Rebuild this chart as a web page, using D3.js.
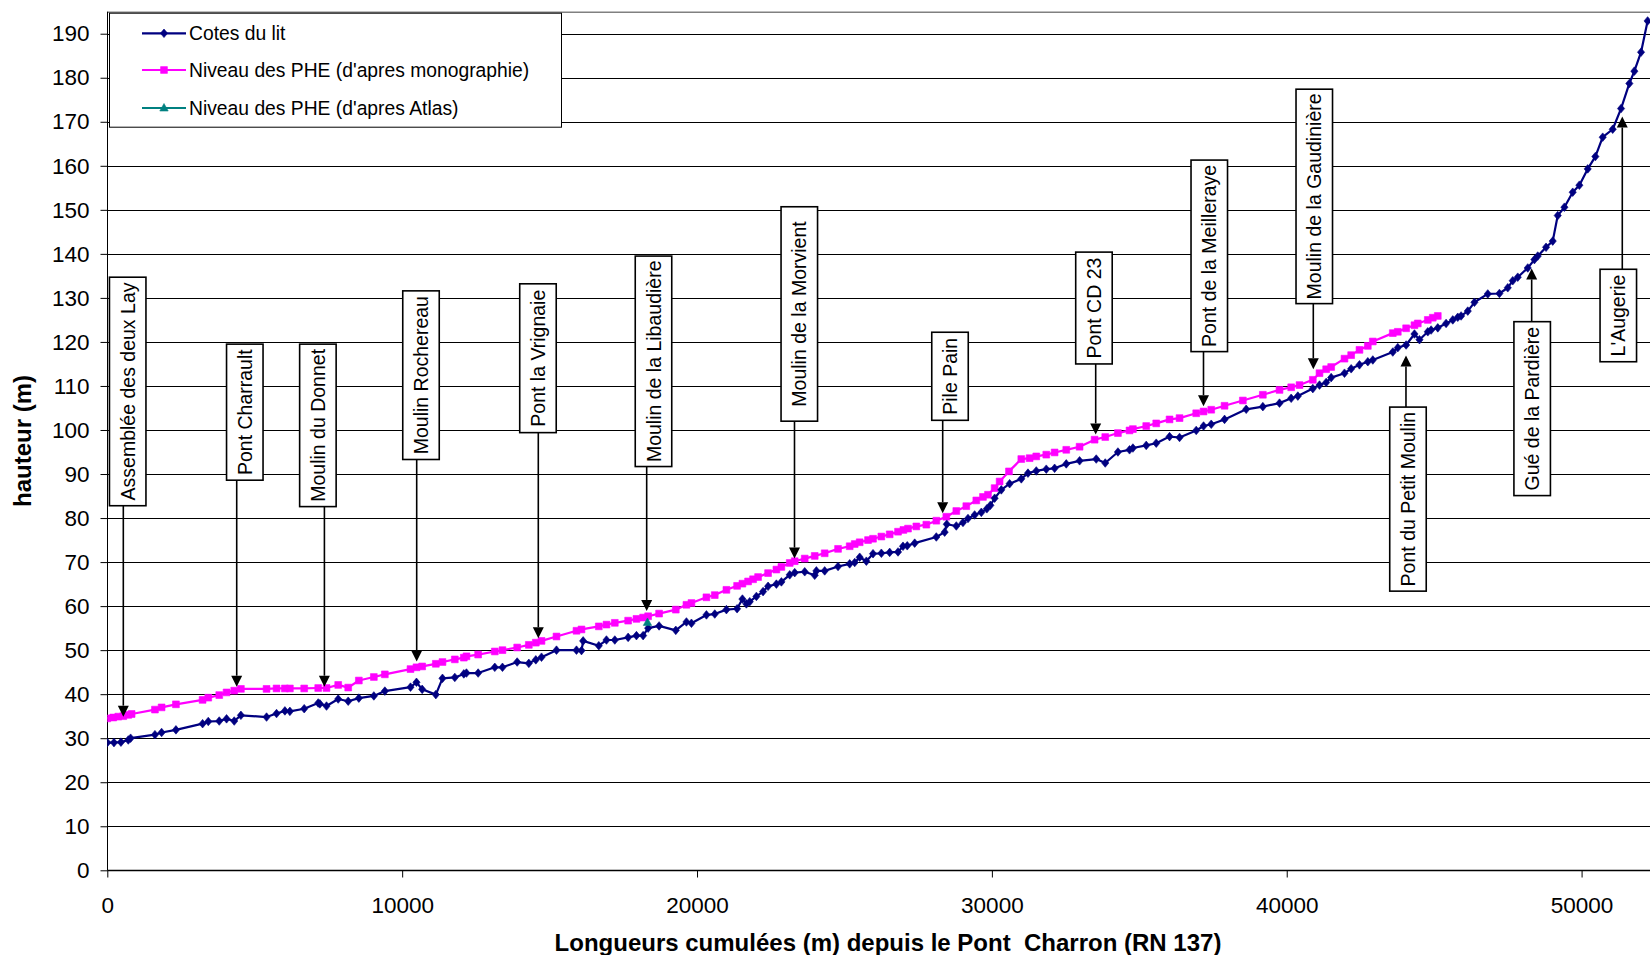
<!DOCTYPE html>
<html>
<head>
<meta charset="utf-8">
<script src="https://cdn.jsdelivr.net/npm/d3@7"></script>
<style>
  body { margin: 0; background: #ffffff; }
  svg { display: block; }
  text { font-family: "Liberation Sans", Arial, sans-serif; fill: #000; }
</style>
</head>
<body>
<svg id="chart" width="1650" height="955"></svg>
<script>
// ---- Profil en long : cotes du lit et niveaux des PHE ----

// Cotes du lit : distance cumulée (m) et cote (m)
const coteDistances = [
  0, 226, 463, 712, 791, 1616, 1842, 2328, 3232, 3424, 3797, 4045, 4305, 4531, 5401, 5740,
  6023, 6192, 6678, 7153, 7209, 7435, 7831, 8170, 8531, 9040, 9413, 10283, 10486, 10679, 11142,
  11368, 11786, 12091, 12181, 12577, 13142, 13402, 13901, 14296, 14533, 14726, 15234, 15912,
  16082, 16138, 16669, 16929, 17212, 17664, 17946, 18172, 18342, 18714, 19280, 19641, 19811,
  20319, 20602, 20997, 21359, 21540, 21675, 21788, 22014, 22240, 22410, 22692, 22862, 23144,
  23314, 23653, 23992, 24048, 24330, 24783, 25178, 25348, 25517, 25743, 25969, 26252, 26534,
  26817, 26986, 27130, 27382, 28116, 28399, 28470, 28794, 29020, 29190, 29416, 29642, 29830,
  29950, 30094, 30320, 30602, 30998, 31224, 31506, 31845, 32128, 32523, 32975, 33540, 33845,
  34275, 34669, 34783, 35235, 35574, 36026, 36365, 36930, 37179, 37439, 37891, 38625, 39190,
  39755, 40151, 40377, 40885, 41111, 41337, 41507, 41959, 42185, 42467, 42750, 42919, 43597,
  43767, 44049, 44332, 44502, 44784, 44897, 45123, 45405, 45631, 45801, 45914, 46140, 46366,
  46818, 47213, 47496, 47665, 47835, 48174, 48400, 48513, 48795, 49021, 49191, 49417, 49699,
  49925, 50208, 50467, 50716, 51055, 51338, 51620, 51790, 52016, 52239
];
const coteHeights = [
  29.0, 29.0, 29.1, 29.6, 30.0, 30.8, 31.3, 31.9, 33.3, 33.8, 33.9, 34.4, 33.9, 35.2, 34.8, 35.6,
  36.2, 36.1, 36.7, 38.0, 37.8, 37.3, 38.9, 38.4, 39.1, 39.6, 40.7, 41.6, 42.7, 41.1, 39.9,
  43.6, 43.8, 44.6, 44.8, 44.8, 46.1, 46.1, 47.3, 47.0, 47.8, 48.4, 50.0, 50.0,
  49.9, 52.1, 51.0, 52.3, 52.3, 52.9, 53.3, 53.3, 55.0, 55.5, 54.5, 56.4, 56.1,
  58.0, 58.2, 59.2, 59.4, 61.6, 60.5, 61.0, 62.2, 63.3, 64.5, 65.0, 65.5, 67.1,
  67.6, 67.8, 67.0, 68.0, 68.0, 69.0, 69.6, 69.9, 71.1, 70.2, 71.9, 72.0, 72.2,
  72.3, 73.6, 73.7, 74.3, 75.7, 76.8, 78.6, 78.2, 79.0, 79.9, 80.7, 81.3, 82.1,
  82.9, 84.5, 86.4, 87.8, 88.9, 90.2, 90.7, 91.1, 91.3, 92.3, 93.0, 93.4, 92.5,
  95.0, 95.5, 95.9, 96.5, 97.0, 98.5, 98.3, 99.9, 100.9, 101.3, 102.4, 104.7, 105.3,
  106.1, 107.2, 107.7, 109.4, 110.2, 110.8, 111.9, 112.9, 113.9, 114.8, 115.5, 115.9, 117.7,
  118.7, 119.3, 121.8, 120.5, 122.3, 122.7, 123.2, 124.2, 125.0, 125.6, 125.9, 127.0, 129.0,
  130.9, 131.0, 132.3, 133.9, 134.7, 136.8, 138.7, 139.5, 141.5, 142.9, 148.7, 150.6, 154.0,
  155.6, 159.3, 162.1, 166.5, 168.3, 173.0, 178.7, 181.5, 185.8, 192.9
];

// Niveau des PHE d'après la monographie
const pheMonoDistances = [
  0, 203, 373, 542, 712, 825, 1616, 1842, 2328, 3232, 3424, 3797, 4045, 4305, 4531, 5401,
  5740, 6023, 6192, 6678, 7153, 7435, 7831, 8170, 8531, 9040, 9413, 10283, 10486, 10679,
  11142, 11368, 11786, 12091, 12181, 12577, 13142, 13402, 13901, 14296, 14533, 14726, 15234,
  15912, 16082, 16669, 16929, 17212, 17664, 17946, 18172, 18342, 18714, 19280, 19641, 19811,
  20319, 20602, 20997, 21359, 21540, 21732, 21901, 22071, 22410, 22692, 22862, 23144, 23314,
  23653, 23992, 24330, 24783, 25178, 25348, 25517, 25800, 25969, 26252, 26534, 26817, 27000,
  27156, 27438, 27777, 28116, 28455, 28794, 29133, 29472, 29698, 29868, 30094, 30263, 30580,
  30998, 31280, 31506, 31845, 32128, 32523, 32975, 33484, 33845, 34275, 34669, 34783, 35235,
  35574, 36026, 36365, 36930, 37179, 37439, 37891, 38512, 39190, 39755, 40151, 40434, 40885,
  41111, 41337, 41507, 41959, 42185, 42467, 42750, 42919, 43597, 43767, 44049, 44332, 44445,
  44784, 44953, 45123
];
const pheMonoHeights = [
  34.5, 34.7, 34.9, 35.0, 35.3, 35.5, 36.5, 37.0, 37.7, 38.7, 39.2, 39.8, 40.4, 40.8, 41.2, 41.2,
  41.3, 41.3, 41.3, 41.3, 41.4, 41.4, 42.1, 41.5, 43.1, 43.9, 44.5, 45.7, 46.1, 46.3,
  46.9, 47.3, 47.9, 48.3, 48.6, 49.0, 49.7, 50.0, 50.6, 51.2, 51.7, 52.1, 53.1,
  54.4, 54.7, 55.4, 55.8, 56.2, 56.7, 57.1, 57.4, 57.7, 58.3, 59.2, 60.3, 60.7,
  62.0, 62.5, 63.7, 64.6, 65.1, 65.6, 66.1, 66.6, 67.5, 68.3, 68.9, 69.8, 70.2,
  70.8, 71.4, 72.0, 73.0, 73.6, 74.1, 74.5, 75.0, 75.3, 75.8, 76.3, 76.9, 77.3,
  77.6, 78.1, 78.5, 79.4, 80.3, 81.6, 82.7, 84.0, 84.8, 85.3, 86.8, 88.3, 90.6,
  93.4, 93.6, 94.0, 94.4, 94.9, 95.5, 96.2, 97.8, 98.4, 99.3, 99.9, 100.2, 100.9,
  101.5, 102.4, 102.7, 103.8, 104.2, 104.6, 105.5, 106.7, 108.0, 109.1, 109.7, 110.2, 111.4,
  112.9, 113.8, 114.3, 116.2, 117.0, 118.2, 119.1, 120.1, 122.0, 122.3, 123.1, 123.8, 124.2,
  125.0, 125.5, 125.9
];

// Niveau des PHE d'après l'Atlas
const pheAtlasDistances = [18320];
const pheAtlasHeights = [56.3];

const seriesNames = [
  "Cotes du lit",
  "Niveau des PHE (d'apres monographie)",
  "Niveau des PHE (d'apres Atlas)"
];

const xTickValues = [0, 10000, 20000, 30000, 40000, 50000];
const yTickValues = [0, 10, 20, 30, 40, 50, 60, 70, 80, 90, 100, 110, 120, 130, 140, 150, 160, 170, 180, 190];

const xAxisTitle = "Longueurs cumulées (m) depuis le Pont  Charron (RN 137)";
const yAxisTitle = "hauteur (m)";

// Ouvrages et lieux-dits repérés le long du cours d'eau
const siteNames = [
  "Assemblée des deux Lay", "Pont Charrault", "Moulin du Donnet", "Moulin Rochereau",
  "Pont la Vrignaie", "Moulin de la Libaudière", "Moulin de la Morvient", "Pile Pain",
  "Pont CD 23", "Pont de la Meilleraye", "Moulin de la Gaudinière", "Pont du Petit Moulin",
  "Gué de la Pardière", "L'Augerie"
];
const siteDistances = [543, 4389, 7363, 10493, 14617, 18293, 23306, 28332, 33521, 37177, 40901, 44044, 48307, 51380];

// Placement des étiquettes (centre du cadre en m, haut et bas du cadre en cote, pointe de flèche en cote)
const calloutCentre = [692, 4663, 7142, 10639, 14606, 18524, 23469, 28580, 33462, 37373, 40934, 44112, 48324, 51245];
const calloutTop    = [134.7, 119.5, 119.5, 131.6, 133.2, 139.5, 150.7, 122.2, 140.4, 161.3, 177.4, 105.2, 124.6, 136.5];
const calloutBottom = [82.8, 88.6, 82.6, 93.3, 99.4, 91.7, 102.0, 102.2, 115.0, 117.8, 128.7, 63.4, 85.1, 115.5];
const calloutTip    = [34.9, 41.7, 41.7, 47.4, 52.7, 58.9, 70.8, 81.1, 99.0, 105.4, 113.8, 116.9, 136.7, 171.2];

// ---- Mise en page ----
const plot = { left: 107.3, right: 1650, top: 11.7, bottom: 870.3 };
const COLORS = { cote: "#000080", mono: "#FF00FF", atlas: "#008080" };

const svg = d3.select("#chart");

const x = d3.scaleLinear().domain([0, 52320]).range([plot.left, plot.right]);
const y = d3.scaleLinear().domain([0, 195]).range([plot.bottom, plot.top]);

svg.append("defs").append("clipPath").attr("id", "plot-clip")
  .append("rect")
  .attr("x", plot.left).attr("y", plot.top)
  .attr("width", plot.right - plot.left).attr("height", plot.bottom - plot.top);

// Quadrillage horizontal
svg.append("g")
  .selectAll("line")
  .data(yTickValues.filter(v => v > 0))
  .join("line")
  .attr("x1", plot.left).attr("x2", plot.right)
  .attr("y1", d => Math.round(y(d)) + 0.5).attr("y2", d => Math.round(y(d)) + 0.5)
  .attr("stroke", "#000").attr("stroke-width", 1);

// Bord supérieur de la zone de tracé
svg.append("line")
  .attr("x1", plot.left).attr("x2", plot.right)
  .attr("y1", plot.top + 0.5).attr("y2", plot.top + 0.5)
  .attr("stroke", "#808080").attr("stroke-width", 1.5);

// Axe des ordonnées
const yAxis = d3.axisLeft(y).tickValues(yTickValues).tickSize(7).tickPadding(11).tickFormat(d3.format("d"));
const gy = svg.append("g").attr("transform", `translate(${Math.round(plot.left) + 0.5},0)`).call(yAxis);
gy.select(".domain").attr("stroke", "#000").attr("d", `M0,${plot.top}V${plot.bottom}`);
gy.selectAll(".tick line").attr("stroke", "#000");
gy.selectAll(".tick text")
  .style("font-family", '"Liberation Sans", Arial, sans-serif')
  .style("font-size", "22.5px").attr("fill", "#000");

// Axe des abscisses
const xAxis = d3.axisBottom(x).tickValues(xTickValues).tickSize(7).tickPadding(20).tickFormat(d3.format("d"));
const gx = svg.append("g").attr("transform", `translate(0,${Math.round(plot.bottom) + 0.5})`).call(xAxis);
gx.select(".domain").attr("stroke", "#000").attr("stroke-width", 1.5).attr("d", `M${plot.left},0H${plot.right}`);
gx.selectAll(".tick line").attr("stroke", "#000");
gx.selectAll(".tick text")
  .style("font-family", '"Liberation Sans", Arial, sans-serif')
  .style("font-size", "22.5px").attr("fill", "#000");

// Titres des axes
svg.append("text")
  .attr("x", 888).attr("y", 951)
  .attr("text-anchor", "middle")
  .style("font-weight", "bold").style("font-size", "24px").style("white-space", "pre")
  .text(xAxisTitle);

svg.append("text")
  .attr("transform", "translate(31,441) rotate(-90)")
  .attr("text-anchor", "middle")
  .style("font-weight", "bold").style("font-size", "24px")
  .text(yAxisTitle);

// Séries
const series = [
  { name: seriesNames[0], xs: coteDistances, ys: coteHeights, color: COLORS.cote, marker: "diamond" },
  { name: seriesNames[1], xs: pheMonoDistances, ys: pheMonoHeights, color: COLORS.mono, marker: "square" },
  { name: seriesNames[2], xs: pheAtlasDistances, ys: pheAtlasHeights, color: COLORS.atlas, marker: "triangle" }
];

function markerPath(kind) {
  if (kind === "diamond") return "M0,-4.3L3.6,0L0,4.3L-3.6,0Z";
  if (kind === "square") return "M-3.4,-3.4H3.4V3.4H-3.4Z";
  return "M0,-4.5L4.2,3L-4.2,3Z";
}

const line = d3.line().x(d => x(d[0])).y(d => y(d[1]));
const gSeries = svg.append("g").attr("clip-path", "url(#plot-clip)");

// La série PHE monographie est tracée avant les cotes du lit
[series[1], series[0], series[2]].forEach(s => {
  const pts = s.xs.map((v, i) => [v, s.ys[i]]);
  if (pts.length > 1) {
    gSeries.append("path")
      .datum(pts)
      .attr("fill", "none")
      .attr("stroke", s.color)
      .attr("stroke-width", 2.2)
      .attr("stroke-linejoin", "round")
      .attr("d", line);
  }
  gSeries.append("g")
    .selectAll("path")
    .data(pts)
    .join("path")
    .attr("transform", d => `translate(${x(d[0])},${y(d[1])})`)
    .attr("d", markerPath(s.marker))
    .attr("fill", s.color)
    .attr("stroke", s.color)
    .attr("stroke-width", 0.6);
});

// Étiquettes fléchées
const BOX_W = 36.5;
const gCall = svg.append("g");
siteNames.forEach((name, i) => {
  const cx = x(calloutCentre[i]);
  const top = y(calloutTop[i]);
  const bottom = y(calloutBottom[i]);
  const ax = x(siteDistances[i]);
  const tip = y(calloutTip[i]);
  const down = tip > bottom;
  const start = down ? bottom : top;
  const headLen = 11, headHalf = 5.5;
  const dir = down ? 1 : -1;

  gCall.append("line")
    .attr("x1", ax).attr("x2", ax)
    .attr("y1", start).attr("y2", tip - dir * headLen)
    .attr("stroke", "#000").attr("stroke-width", 1.6);
  gCall.append("path")
    .attr("d", `M${ax},${tip}L${ax - headHalf},${tip - dir * headLen}L${ax + headHalf},${tip - dir * headLen}Z`)
    .attr("fill", "#000");

  gCall.append("rect")
    .attr("x", cx - BOX_W / 2).attr("y", top)
    .attr("width", BOX_W).attr("height", bottom - top)
    .attr("fill", "#fff").attr("stroke", "#000").attr("stroke-width", 1.6);
  gCall.append("text")
    .attr("transform", `translate(${cx},${(top + bottom) / 2}) rotate(-90)`)
    .attr("text-anchor", "middle")
    .attr("dy", "0.36em")
    .style("font-size", "19.5px")
    .text(name);
});

// Légende
const legend = { x: 109, y: 12.7, w: 452, h: 114 };
const gLeg = svg.append("g");
gLeg.append("rect")
  .attr("x", legend.x + 0.5).attr("y", legend.y + 0.5)
  .attr("width", legend.w).attr("height", legend.h)
  .attr("fill", "#fff").attr("stroke", "#000").attr("stroke-width", 1);
const legendRows = [33.3, 70, 108];
series.forEach((s, i) => {
  const ly = legendRows[i];
  gLeg.append("line")
    .attr("x1", 142).attr("x2", 186).attr("y1", ly).attr("y2", ly)
    .attr("stroke", s.color).attr("stroke-width", 2.2);
  gLeg.append("path")
    .attr("transform", `translate(164,${ly})`)
    .attr("d", markerPath(s.marker))
    .attr("fill", s.color).attr("stroke", s.color).attr("stroke-width", 0.6);
  gLeg.append("text")
    .attr("x", 189).attr("y", ly).attr("dy", "0.35em")
    .style("font-size", "19.3px")
    .text(s.name);
});
</script>
</body>
</html>
